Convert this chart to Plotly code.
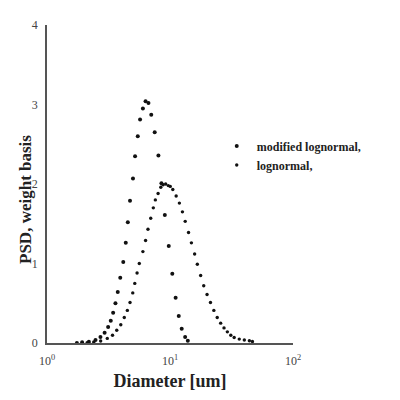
import plotly.graph_objects as go

# modified lognormal (narrow, truncated near 14 um)
mod_d = [1.75, 1.93, 2.19, 2.48, 2.72, 2.94, 3.14, 3.30, 3.45, 3.60, 3.76, 3.94, 4.17,
         4.37, 4.54, 4.73, 5.00, 5.20, 5.47, 5.71, 6.02, 6.33, 6.68, 7.04, 7.51, 8.05,
         8.52, 9.08, 9.77, 10.44, 11.11, 11.78, 12.45, 13.28, 13.96]
mod_psd = [0.0, 0.01, 0.016, 0.037, 0.077, 0.13, 0.20, 0.28, 0.38, 0.50, 0.64, 0.82, 1.02,
           1.26, 1.52, 1.79, 2.07, 2.35, 2.60, 2.81, 2.95, 3.04, 3.02, 2.87, 2.65, 2.36,
           2.01, 1.61, 1.22, 0.87, 0.57, 0.34, 0.18, 0.077, 0.028]

# lognormal (broad)
log_d = [2.12, 2.40, 2.73, 3.09, 3.41, 3.69, 3.98, 4.25, 4.50, 4.73, 4.98, 5.17, 5.40,
         5.63, 6.02, 6.33, 6.62, 6.97, 7.32, 7.60, 8.00, 8.42, 8.79, 9.22, 9.68, 10.05,
         10.54, 11.22, 11.92, 12.62, 13.30, 14.15, 14.93, 15.86, 16.68, 17.75, 18.80,
         20.01, 21.33, 22.73, 24.21, 25.82, 27.49, 29.26, 31.21, 33.23, 36.56, 40.2,
         44.2, 46.8]
log_psd = [0.004, 0.012, 0.025, 0.058, 0.098, 0.16, 0.23, 0.32, 0.41, 0.51, 0.63, 0.75, 0.88,
           1.00, 1.15, 1.29, 1.43, 1.57, 1.70, 1.80, 1.88, 1.96, 1.99, 2.00, 1.98, 1.97,
           1.93, 1.85, 1.76, 1.65, 1.53, 1.39, 1.26, 1.12, 0.99, 0.85, 0.72,
           0.61, 0.51, 0.41, 0.32, 0.25, 0.19, 0.14, 0.098, 0.070, 0.049, 0.037,
           0.028, 0.018]

x_ticks = [1, 10, 100]
x_tick_text = ["10<sup>0</sup>", "10<sup>1</sup>", "10<sup>2</sup>"]
y_ticks = [0, 1, 2, 3, 4]

serif = "Liberation Serif"

fig = go.Figure()
fig.add_trace(go.Scatter(x=mod_d, y=mod_psd, mode="markers", name="<b>modified lognormal,</b>",
                         marker=dict(color="#111", size=4)))
fig.add_trace(go.Scatter(x=log_d, y=log_psd, mode="markers", name="<b>lognormal,</b>",
                         marker=dict(color="#111", size=3.4)))

# page has an 8px body margin, so the figure is offset by 8px
fig.update_layout(
    width=400, height=400,
    margin=dict(l=39, r=115, t=10, b=65),
    plot_bgcolor="white", paper_bgcolor="white",
    font=dict(family=serif, color="#333", size=12),
    legend=dict(x=0.69, y=0.665, xanchor="left", yanchor="top",
                font=dict(family=serif, size=12, color="#222"),
                bgcolor="rgba(0,0,0,0)", itemwidth=30, tracegroupgap=0),
)
# y-axis title sits a little below the plot centre in the original
fig.add_annotation(text="<b>PSD, weight basis</b>", textangle=-90,
                   xref="paper", yref="paper", x=-0.085, y=0.45,
                   xanchor="center", yanchor="middle", showarrow=False,
                   font=dict(family=serif, size=17, color="#222"))
fig.update_xaxes(type="log", range=[0, 2], tickvals=x_ticks, ticktext=x_tick_text,
                 showgrid=False, zeroline=False, showline=True, linecolor="#555", linewidth=1.5,
                 ticks="outside", ticklen=6, tickcolor="rgba(0,0,0,0)",
                 tickfont=dict(size=12, color="#444"),
                 title=dict(text="<b>Diameter [um]</b>", font=dict(size=18, color="#222"), standoff=7))
fig.update_yaxes(range=[0, 4], tickvals=y_ticks, showgrid=False, zeroline=False,
                 showline=True, linecolor="#555", linewidth=1.5,
                 ticks="outside", ticklen=5, tickcolor="rgba(0,0,0,0)",
                 tickfont=dict(size=12, color="#444"))

fig.write_html("out.html")
